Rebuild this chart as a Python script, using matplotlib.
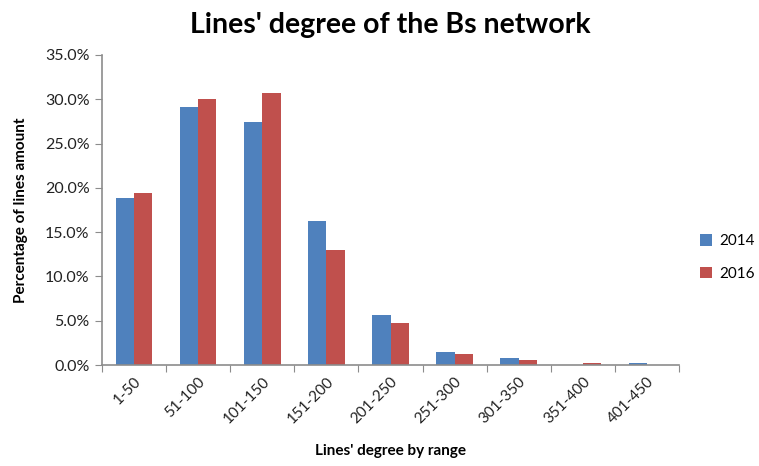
import matplotlib.pyplot as plt
import numpy as np
from matplotlib.ticker import PercentFormatter

plt.rcParams['font.family'] = ['Lato', 'DejaVu Sans']

ranges = ['1-50', '51-100', '101-150', '151-200', '201-250',
          '251-300', '301-350', '351-400', '401-450']
y2014 = [18.8, 29.1, 27.4, 16.3, 5.7, 1.45, 0.8, 0.0, 0.22]
y2016 = [19.4, 30.0, 30.7, 12.95, 4.75, 1.28, 0.53, 0.23, 0.0]

blue = '#4F81BD'
red = '#C0504D'
grey = '#8C8C8C'

fig = plt.figure(figsize=(7.59, 4.66), dpi=100)
ax = fig.add_axes([0.1344, 0.2167, 0.7602, 0.6653])

x = np.arange(len(ranges))
w = 0.285
ax.bar(x - w/2, y2014, width=w, color=blue, label='2014')
ax.bar(x + w/2, y2016, width=w, color=red, label='2016')

ax.set_xlim(-0.5, len(ranges) - 0.5)
ax.set_ylim(0, 35)
ax.set_yticks(np.arange(0, 36, 5))
ax.yaxis.set_major_formatter(PercentFormatter(decimals=1))

# ticks on category boundaries, labels in the middle
ax.set_xticks(np.arange(-0.5, len(ranges), 1))
ax.set_xticklabels([])
ax.set_xticks(x, minor=True)
ax.set_xticklabels(ranges, minor=True, rotation=45, ha='right',
                   rotation_mode='anchor', fontsize=11, color='#222222')
ax.tick_params(axis='x', which='minor', length=0, pad=7)
ax.tick_params(axis='x', which='major', length=5, color=grey, direction='out')
ax.tick_params(axis='y', length=5, color=grey, labelsize=11.5,
               labelcolor='#222222', pad=4)

for s in ['top', 'right']:
    ax.spines[s].set_visible(False)
for s in ['left', 'bottom']:
    ax.spines[s].set_color(grey)
    ax.spines[s].set_linewidth(1.2)

ax.set_title("Lines' degree of the Bs network", fontsize=20.5, fontweight='bold',
             pad=16)
ax.set_xlabel("Lines' degree by range", fontsize=11, fontweight='bold',
              labelpad=13)
ax.set_ylabel('Percentage of lines amount', fontsize=11, fontweight='bold',
              labelpad=12)

ax.legend(loc='center left', bbox_to_anchor=(1.012, 0.347), frameon=False,
          fontsize=11, handlelength=0.8, handleheight=0.8,
          labelspacing=1.2, handletextpad=0.5)

fig.savefig('out.png', dpi=100)
